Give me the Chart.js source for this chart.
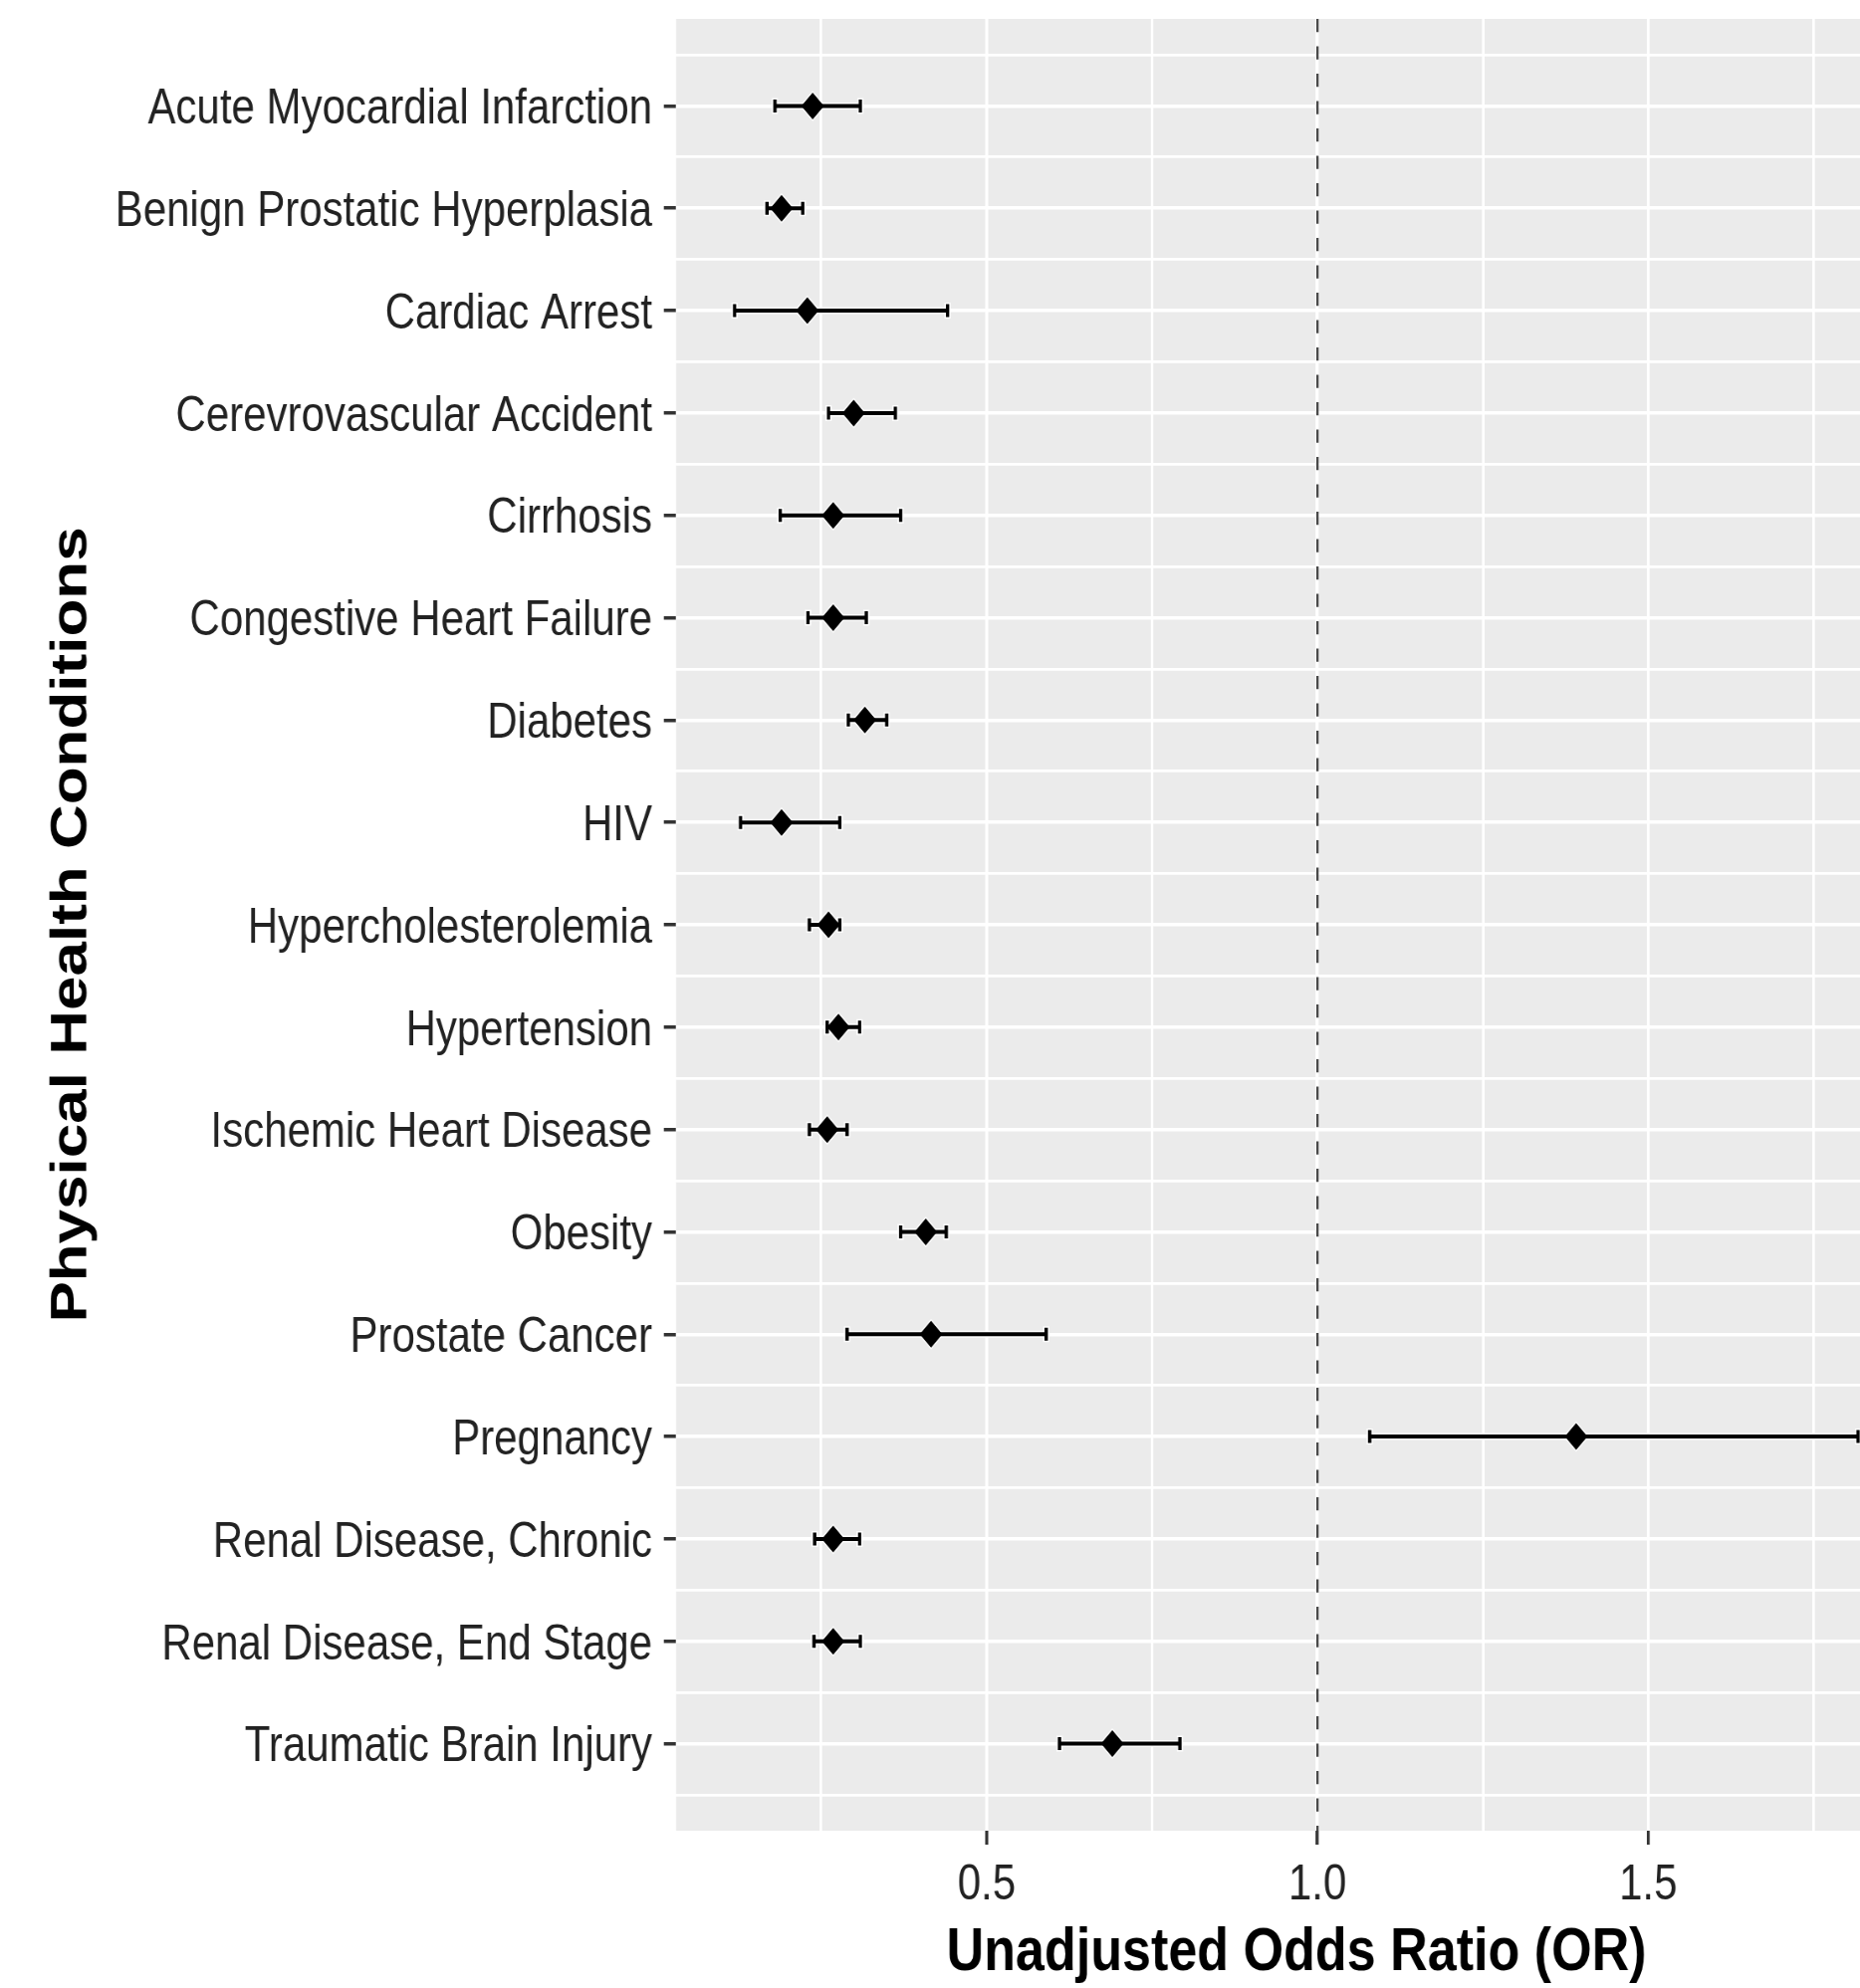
<!DOCTYPE html>
<html>
<head>
<meta charset="utf-8">
<script src="https://cdn.jsdelivr.net/npm/chart.js@4.4.1/dist/chart.umd.min.js"></script>
<style>
  html, body { margin: 0; padding: 0; background: #ffffff; overflow: hidden; width: 1868px; height: 1997px; }
  #wrap { position: absolute; left: 0; top: 0; width: 2292px; height: 1997px; transform: scaleX(0.839928); transform-origin: 0 0; }
  canvas { display: block; }
</style>
</head>
<body>
<div id="wrap"><canvas id="chart" width="2292" height="1997"></canvas></div>
<script>
// ---- data ----
const categories = [
  "Acute Myocardial Infarction",
  "Benign Prostatic Hyperplasia",
  "Cardiac Arrest",
  "Cerevrovascular Accident",
  "Cirrhosis",
  "Congestive Heart Failure",
  "Diabetes",
  "HIV",
  "Hypercholesterolemia",
  "Hypertension",
  "Ischemic Heart Disease",
  "Obesity",
  "Prostate Cancer",
  "Pregnancy",
  "Renal Disease, Chronic",
  "Renal Disease, End Stage",
  "Traumatic Brain Injury"
];
const oddsRatio = [0.237, 0.190, 0.229, 0.299, 0.268, 0.268, 0.316, 0.190, 0.261, 0.276, 0.259, 0.408, 0.416, 1.391, 0.268, 0.268, 0.690];
const ciLower   = [0.180, 0.168, 0.119, 0.261, 0.188, 0.230, 0.291, 0.128, 0.232, 0.259, 0.232, 0.370, 0.289, 1.079, 0.240, 0.239, 0.610];
const ciUpper   = [0.309, 0.222, 0.441, 0.362, 0.370, 0.318, 0.349, 0.278, 0.278, 0.308, 0.289, 0.439, 0.590, 1.817, 0.308, 0.309, 0.792];

const xMajorTicks  = [0.5, 1.0, 1.5];
const xMajorLabels = ["0.5", "1.0", "1.5"];
const xMinorTicks  = [0.25, 0.75, 1.25, 1.75];
const referenceLine = 1.0;
const xTitle = "Unadjusted Odds Ratio (OR)";
const yTitle = "Physical Health Conditions";

// ---- derived structures ----
const yPos = categories.map((_, i) => i + 1);
const points = categories.map((_, i) => ({ x: oddsRatio[i], y: yPos[i] }));
const xTickValues = xMajorTicks.concat(xMinorTicks).sort((a, b) => a - b);
const yTickValues = [];
for (let k = 1; k <= categories.length * 2 + 1; k++) yTickValues.push(k / 2);

const FONT = '"Liberation Sans", Arial, Helvetica, sans-serif';
const isMajorX = v => xMajorTicks.indexOf(v) >= 0;
const isMajorY = v => Number.isInteger(v);

const panelBg = {
  id: 'panelBg',
  beforeDraw(chart) {
    const { ctx, chartArea: a } = chart;
    ctx.save();
    ctx.fillStyle = '#EBEBEB';
    ctx.fillRect(a.left, a.top, a.right - a.left, a.bottom - a.top);
    ctx.restore();
  }
};

const forest = {
  id: 'forest',
  beforeDatasetsDraw(chart) {
    const { ctx, chartArea: a, scales: { x, y } } = chart;
    ctx.save();
    ctx.beginPath();
    ctx.rect(a.left, a.top, a.right - a.left, a.bottom - a.top);
    ctx.clip();

    // dashed reference line at OR = 1
    const xr = x.getPixelForValue(referenceLine);
    ctx.strokeStyle = '#3a3a3a';
    ctx.lineWidth = 2.4;
    ctx.setLineDash([13.3, 14.2]);
    ctx.beginPath();
    ctx.moveTo(xr, a.top);
    ctx.lineTo(xr, a.bottom);
    ctx.stroke();
    ctx.setLineDash([]);

    const capH = 6.5;
    // pass 0: light halo, pass 1: black error bars
    for (let pass = 0; pass < 2; pass++) {
      categories.forEach((_, i) => {
        const yp = y.getPixelForValue(yPos[i]);
        const x0 = x.getPixelForValue(ciLower[i]);
        const x1 = x.getPixelForValue(ciUpper[i]);
        const xp = x.getPixelForValue(oddsRatio[i]);
        ctx.strokeStyle = pass ? '#000000' : 'rgba(255,255,255,0.9)';
        ctx.lineCap = 'butt';
        // bar
        ctx.lineWidth = pass ? 4 : 7;
        ctx.beginPath();
        ctx.moveTo(x0 - (pass ? 0 : 2), yp);
        ctx.lineTo(x1 + (pass ? 0 : 2), yp);
        ctx.stroke();
        // caps
        ctx.lineWidth = pass ? 4 : 7.5;
        const ch = capH + (pass ? 0 : 1.5);
        ctx.beginPath();
        ctx.moveTo(x0, yp - ch); ctx.lineTo(x0, yp + ch);
        ctx.moveTo(x1, yp - ch); ctx.lineTo(x1, yp + ch);
        ctx.stroke();
        if (!pass) {
          const r = 15.5;
          ctx.fillStyle = 'rgba(255,255,255,0.9)';
          ctx.beginPath();
          ctx.moveTo(xp - r, yp); ctx.lineTo(xp, yp - r);
          ctx.lineTo(xp + r, yp); ctx.lineTo(xp, yp + r);
          ctx.closePath();
          ctx.fill();
        }
      });
    }
    ctx.restore();
  }
};

new Chart(document.getElementById('chart'), {
  type: 'scatter',
  data: {
    datasets: [{
      data: points,
      pointStyle: 'rectRot',
      pointRadius: 13.5,
      pointHoverRadius: 13.5,
      backgroundColor: '#000000',
      borderColor: '#000000',
      borderWidth: 0,
      showLine: false
    }]
  },
  plugins: [panelBg, forest],
  options: {
    responsive: false,
    devicePixelRatio: 1,
    animation: false,
    events: [],
    layout: { autoPadding: false, padding: { top: 19, right: 0, bottom: 0, left: 0 } },
    plugins: { legend: { display: false }, tooltip: { enabled: false } },
    scales: {
      x: {
        type: 'linear',
        position: 'bottom',
        min: 0.0305,
        max: 1.906,
        afterBuildTicks: s => { s.ticks = xTickValues.map(v => ({ value: v })); },
        afterFit: s => { s.height = 158; s.paddingLeft = 0; s.paddingRight = 0; },
        ticks: {
          autoSkip: false, maxRotation: 0, minRotation: 0, padding: 16.4,
          color: '#222222',
          font: { family: FONT, size: 50, lineHeight: 1 },
          callback: v => { const k = xMajorTicks.indexOf(v); return k >= 0 ? xMajorLabels[k] : ''; }
        },
        grid: {
          color: '#ffffff',
          lineWidth: c => (c.tick && isMajorX(c.tick.value)) ? 3.6 : 3.0,
          drawTicks: true,
          tickLength: 14,
          tickWidth: 3.6,
          tickColor: c => (c.tick && isMajorX(c.tick.value)) ? '#333333' : 'rgba(0,0,0,0)'
        },
        border: { display: false },
        title: {
          display: true, text: xTitle, color: '#000000',
          font: { family: FONT, size: 62, weight: 'bold', lineHeight: 1 },
          padding: { top: 0, bottom: 4.5 }
        }
      },
      y: {
        type: 'linear',
        position: 'left',
        reverse: true,
        min: 0.15,
        max: 17.85,
        afterBuildTicks: s => { s.ticks = yTickValues.map(v => ({ value: v })); },
        afterFit: s => { s.width = 808.3; s.paddingTop = 0; s.paddingBottom = 0; },
        ticks: {
          autoSkip: false, padding: 13.9, labelOffset: 4,
          color: '#222222',
          font: { family: FONT, size: 50, lineHeight: 1 },
          callback: v => isMajorY(v) ? categories[v - 1] : ''
        },
        grid: {
          color: '#ffffff',
          lineWidth: c => (c.tick && isMajorY(c.tick.value)) ? 3.5 : 2.7,
          drawTicks: true,
          tickLength: 14.6,
          tickWidth: 3.5,
          tickColor: c => (c.tick && isMajorY(c.tick.value)) ? '#333333' : 'rgba(0,0,0,0)'
        },
        border: { display: false },
        title: {
          display: true, text: yTitle, color: '#000000',
          font: { family: FONT, size: 62, weight: 'bold', lineHeight: 1 },
          padding: { top: 54.6, bottom: 0 }
        }
      }
    }
  }
});
</script>
</body>
</html>
